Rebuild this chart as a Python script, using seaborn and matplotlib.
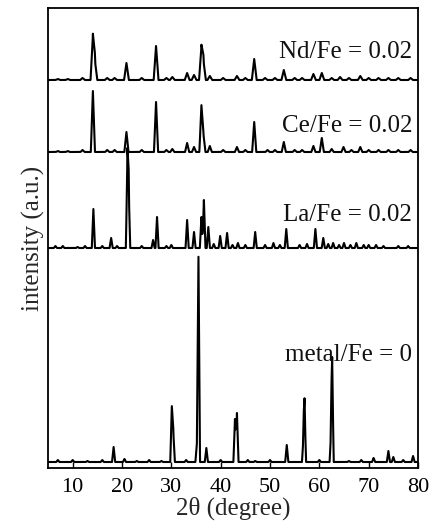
import numpy as np
import pandas as pd
import matplotlib
matplotlib.use("Agg")
import matplotlib.pyplot as plt
import seaborn as sns

# ---- data (peak position in 2theta, peak height in a.u.) ----
metal_pos = [7.0, 10.0, 13.0, 16.0, 18.3, 20.5, 23.0, 25.5, 28.0, 30.1, 30.4, 33.0, 35.2, 35.5, 37.1,
             40.0, 42.9, 43.3, 45.5, 47.0, 50.0, 53.4, 56.8, 57.0, 60.0, 62.4, 62.6, 66.0, 68.5,
             71.0, 74.0, 75.0, 77.0, 79.0]
metal_h = [2, 2, 1, 2, 15, 3, 1, 2, 1, 54, 30, 2, 20, 204, 14,
           2, 43, 49, 2, 1, 2, 17, 26, 54, 2, 32, 93, 1, 2,
           4, 11, 5, 2, 6]

la_pos = [6.5, 8.0, 11.0, 12.5, 14.2, 16.0, 17.8, 19.0, 21.1, 21.35, 24.0, 26.3, 27.1, 29.0, 30.0,
          33.2, 34.6, 36.1, 36.6, 37.5, 38.6, 39.9, 41.3, 42.4, 43.5, 45.0, 47.0, 49.0, 50.7, 52.0,
          53.3, 56.0, 57.5, 59.2, 60.8, 61.8, 62.8, 64.0, 65.0, 66.3, 67.5, 69.0, 70.0, 71.5, 73.0,
          76.0, 78.0]
la_h = [2, 2, 1, 2, 39, 2, 10, 2, 87, 60, 2, 8, 31, 2, 3,
        28, 16, 31, 48, 21, 4, 12, 15, 3, 5, 3, 16, 3, 5, 3,
        19, 3, 4, 19, 10, 4, 5, 3, 5, 3, 5, 3, 3, 3, 2,
        2, 2]

ce_pos = [7.0, 9.0, 12.0, 14.1, 17.0, 18.5, 20.9, 24.0, 26.9, 29.0, 30.2, 33.2, 34.6, 36.1, 36.5,
          37.8, 40.5, 43.3, 45.0, 46.8, 49.5, 51.0, 52.8, 55.0, 56.5, 58.8, 60.5, 62.5, 64.9, 66.5,
          68.3, 70.0, 72.0, 74.0, 76.0, 78.5]
ce_h = [1, 1, 2, 61, 2, 2, 20, 2, 50, 2, 3, 9, 5, 46, 18,
        6, 2, 5, 2, 30, 2, 2, 10, 2, 2, 6, 14, 3, 5, 2,
        5, 2, 2, 2, 2, 2]

nd_pos = [7.0, 9.0, 12.0, 14.1, 14.5, 17.0, 18.5, 20.9, 24.0, 26.9, 29.0, 30.2, 33.2, 34.6, 36.1,
          36.5, 37.8, 40.5, 43.3, 45.0, 46.8, 49.0, 51.0, 52.8, 55.0, 56.5, 58.8, 60.5, 62.5, 64.2,
          66.0, 68.3, 70.0, 72.0, 74.0, 76.0, 78.5]
nd_h = [1, 1, 2, 43, 20, 2, 2, 17, 2, 34, 2, 3, 7, 5, 32,
        20, 4, 2, 4, 2, 21, 2, 2, 10, 2, 2, 6, 7, 2, 3,
        2, 4, 2, 2, 2, 2, 2]

offsets = {"metal/Fe = 0": 6, "La/Fe = 0.02": 220, "Ce/Fe = 0.02": 316, "Nd/Fe = 0.02": 388}
label_y = {"metal/Fe = 0": 113, "La/Fe = 0.02": 253, "Ce/Fe = 0.02": 342, "Nd/Fe = 0.02": 416}
widths = {"metal/Fe = 0": 0.32, "La/Fe = 0.02": 0.32, "Ce/Fe = 0.02": 0.42, "Nd/Fe = 0.02": 0.48}
peaks = {
    "metal/Fe = 0": (metal_pos, metal_h),
    "La/Fe = 0.02": (la_pos, la_h),
    "Ce/Fe = 0.02": (ce_pos, ce_h),
    "Nd/Fe = 0.02": (nd_pos, nd_h),
}
xticks = [10, 20, 30, 40, 50, 60, 70, 80]

# ---- build line tables from the peak lists (sharp triangular peaks) ----
grid = np.linspace(5, 80, 3001)
frames = []
for name, (pos, h) in peaks.items():
    w = widths[name]
    y = np.full_like(grid, float(offsets[name]))
    for p, hh in zip(pos, h):
        y += hh * np.clip(1 - np.abs(grid - p) / w, 0, None)
    frames.append(pd.DataFrame({"theta": grid, "intensity": y, "sample": name}))
df = pd.concat(frames, ignore_index=True)

sns.set_theme(style="white")
plt.rcParams["font.family"] = ["Liberation Serif", "DejaVu Serif"]

fig = plt.figure(figsize=(4.30, 5.27), dpi=100)
ax = fig.add_axes([48 / 430, 1 - 468 / 527, 370 / 430, 460 / 527])

for name in peaks:
    sub = df[df["sample"] == name]
    sns.lineplot(data=sub, x="theta", y="intensity", ax=ax, color="black",
                 linewidth=1.5, legend=False)
    ax.text(78.8, label_y[name], name, ha="right", va="center", fontsize=18, color="#111111")

ax.set_xlim(5, 80)
ax.set_ylim(0, 460)
ax.set_xticks(xticks)
ax.set_xticklabels([str(t) for t in xticks], fontsize=16)
ax.set_yticks([])
ax.tick_params(axis="x", direction="in", length=4, width=1.0, bottom=True, top=False,
               pad=7, colors="black")
for s in ax.spines.values():
    s.set_color("black")
    s.set_linewidth(1.3)
ax.set_xlabel("2θ (degree)", fontsize=18, labelpad=0)
ax.set_ylabel("intensity (a.u.)", fontsize=18, labelpad=2)

fig.savefig("out.png", dpi=100)
